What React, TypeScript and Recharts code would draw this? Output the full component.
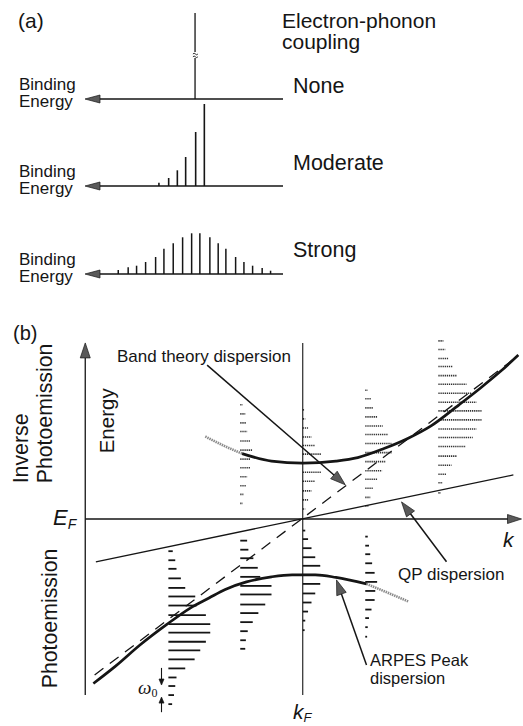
import React from 'react';
import { ComposedChart, Bar, Line, XAxis, YAxis, ReferenceLine, ReferenceDot } from 'recharts';

// (a) spectra: binding energy in units of w0 (zero at the bare line), intensity in a.u.
const noneEnergy = [0];
const noneIntensity = [86];
const moderateEnergy = [4.04, 2.95, 1.98, 1.05, -0.07, -1.04];
const moderateIntensity = [3.3, 8, 15.7, 29, 54, 82];
const strongEnergy = [8.62, 7.51, 6.57, 5.56, 4.44, 3.51, 2.47, 1.42, 0.41, -0.51, -1.63, -2.56, -3.42, -4.51, -5.44, -6.41, -7.48, -8.42];
const strongIntensity = [4, 6.7, 8.3, 12, 17, 25.3, 30.7, 36.7, 40.7, 40.7, 36.7, 30.7, 25.3, 17, 12, 8.3, 6, 3.3];

// (b) dispersions: k relative to kF, energy relative to EF (arbitrary units)
const qpK = [-3.31, 3.37];
const qpE = [-0.85, 0.875];
const bandK = [-3.33, 3.4];
const bandE = [-3.1, 3.2];
const peakUpperK = [-0.97, -0.5, 0, 0.53, 0.88, 1.3, 1.68, 2.04, 2.5, 2.84, 3.16, 3.45];
const peakUpperE = [1.3, 1.15, 1.11, 1.15, 1.22, 1.4, 1.6, 1.84, 2.27, 2.6, 2.93, 3.26];
const peakLowerK = [-3.35, -3.0, -2.6, -2.18, -1.8, -1.5, -1.24, -0.9, -0.5, -0.17, 0.2, 0.53, 1.02];
const peakLowerE = [-3.27, -2.93, -2.5, -2.1, -1.77, -1.57, -1.4, -1.25, -1.15, -1.11, -1.11, -1.16, -1.29];
const fadeUpperK = [-1.56, -1.25, -0.97];
const fadeUpperE = [1.64, 1.45, 1.3];
const fadeLowerK = [1.02, 1.35, 1.69];
const fadeLowerE = [-1.29, -1.46, -1.64];

// spectra drawn at five k points: photoemission (below EF) and inverse photoemission (above)
const specK = [-2.15, -1.0, 0, 1.0, 2.17];
const pesE = [
  [-0.64, -0.82, -0.99, -1.18, -1.37, -1.54, -1.72, -1.91, -2.09, -2.26, -2.44, -2.61, -2.79, -2.97, -3.15, -3.32, -3.5, -3.68],
  [-0.43, -0.61, -0.78, -0.97, -1.15, -1.33, -1.5, -1.7, -1.87, -2.05, -2.23, -2.41, -2.58],
  [-0.23, -0.4, -0.58, -0.76, -0.93, -1.11, -1.29, -1.48, -1.66, -1.84, -2.02, -2.21],
  [-0.35, -0.53, -0.7, -0.88, -1.07, -1.25, -1.43, -1.61, -1.8, -1.97, -2.15, -2.34],
  [],
];
const pesW = [
  [0.07, 0.11, 0.13, 0.2, 0.27, 0.43, 0.45, 0.6, 0.67, 0.67, 0.6, 0.51, 0.42, 0.27, 0.13, 0.11, 0.09, 0.06],
  [0.11, 0.13, 0.21, 0.28, 0.32, 0.5, 0.5, 0.4, 0.29, 0.2, 0.12, 0.09, 0.08],
  [0.04, 0.085, 0.14, 0.2, 0.28, 0.3, 0.28, 0.2, 0.14, 0.085, 0.04, 0.03],
  [0.04, 0.06, 0.08, 0.11, 0.15, 0.19, 0.16, 0.15, 0.1, 0.06, 0.04, 0.03],
  [],
];
const ipesE = [
  [],
  [2.27, 2.09, 1.91, 1.74, 1.55, 1.37, 1.19, 1.02, 0.84, 0.66, 0.49, 0.31],
  [2.17, 1.99, 1.81, 1.63, 1.46, 1.29, 1.11, 0.93, 0.75, 0.56, 0.38, 0.2],
  [2.56, 2.39, 2.21, 2.03, 1.85, 1.68, 1.5, 1.32, 1.14, 0.96, 0.79, 0.61, 0.43, 0.26],
  [3.54, 3.37, 3.19, 3.03, 2.85, 2.68, 2.5, 2.32, 2.15, 1.97, 1.79, 1.62, 1.44, 1.25, 1.07, 0.89, 0.72, 0.52],
];
const ipesW = [
  [],
  [0.04, 0.08, 0.09, 0.11, 0.16, 0.19, 0.16, 0.16, 0.11, 0.09, 0.05, 0.04],
  [0.03, 0.04, 0.085, 0.14, 0.2, 0.3, 0.31, 0.3, 0.2, 0.14, 0.085, 0.04],
  [0.04, 0.1, 0.12, 0.19, 0.28, 0.37, 0.42, 0.42, 0.32, 0.27, 0.19, 0.12, 0.08, 0.05],
  [0.08, 0.11, 0.16, 0.23, 0.29, 0.45, 0.53, 0.61, 0.69, 0.69, 0.61, 0.55, 0.44, 0.3, 0.21, 0.13, 0.07, 0.04],
];

// pointer arrows (band theory, QP, ARPES peak), in k/E units
const pointerFrom = [[-1.53, 3.06], [2.3, -0.85], [1.02, -2.9]];
const pointerTo = [[0.68, 0.68], [1.58, 0.34], [0.54, -1.21]];

const ink = '#151515';
const font = '"Liberation Sans", Arial, sans-serif';
const serif = '"Liberation Serif", serif';

const zip = (xs: number[], ys: number[]) => xs.map((k, i) => ({ k, E: ys[i] }));

// line with a filled triangular head at (x2, y2)
const arrowLine = (head: number, half: number, width: number, fill = '#5a5a5a') => (p: any) => {
  const { x1, y1, x2, y2 } = p;
  const dx = x2 - x1;
  const dy = y2 - y1;
  const len = Math.hypot(dx, dy) || 1;
  const ux = dx / len;
  const uy = dy / len;
  const bx = x2 - ux * head;
  const by = y2 - uy * head;
  const px = -uy * half;
  const py = ux * half;
  return (
    <g>
      <line x1={x1} y1={y1} x2={bx + ux * 2} y2={by + uy * 2} stroke={ink} strokeWidth={width} />
      <polygon
        points={`${x2},${y2} ${bx + px},${by + py} ${bx - px},${by - py}`}
        fill={fill}
        stroke={ink}
        strokeWidth={0.7}
      />
    </g>
  );
};

const breakMark = (p: any) => {
  const { cx, cy } = p;
  return (
    <g>
      <rect x={cx - 3} y={cy - 3} width={6} height={6} fill="#fff" />
      <path d={`M${cx - 2.5},${cy - 1} q1.2,-1.6 2.5,0 t2.5,0`} fill="none" stroke={ink} strokeWidth={0.9} />
      <path d={`M${cx - 2.5},${cy + 1.8} q1.2,-1.6 2.5,0 t2.5,0`} fill="none" stroke={ink} strokeWidth={0.9} />
    </g>
  );
};

function SpectrumRow({ energy, intensity, baseline, barWidth, withBreak }: any) {
  const table = energy.map((E: number, i: number) => ({ E, I: intensity[i] }));
  return (
    <div style={{ position: 'absolute', left: 0, top: baseline - 110 }}>
      <ComposedChart width={283} height={116} data={table} margin={{ top: 10, right: 0, bottom: 6, left: 85 }}>
        <XAxis dataKey="E" type="number" domain={[-9.8, 12.35]} reversed hide allowDataOverflow />
        <YAxis type="number" domain={[0, 100]} hide allowDataOverflow />
        <Bar dataKey="I" fill={ink} barSize={barWidth} isAnimationActive={false} />
        <ReferenceLine
          segment={[{ x: -9.8, y: 0 }, { x: 12.35, y: 0 }]}
          ifOverflow="visible"
          shape={arrowLine(15, 4, 1.5)}
        />
        {withBreak && <ReferenceDot x={0} y={44} r={3} ifOverflow="visible" shape={breakMark} />}
      </ComposedChart>
    </div>
  );
}

export default function App() {
  const specLines: any[] = [];
  specK.forEach((k0, c) => {
    pesE[c].forEach((E, i) =>
      specLines.push(
        <ReferenceLine
          key={`p${c}-${i}`}
          segment={[{ x: k0, y: E }, { x: k0 + pesW[c][i], y: E }]}
          ifOverflow="visible"
          stroke={ink}
          strokeWidth={1.8}
        />
      )
    );
    ipesE[c].forEach((E, i) =>
      specLines.push(
        <ReferenceLine
          key={`i${c}-${i}`}
          segment={[{ x: k0, y: E }, { x: k0 + ipesW[c][i], y: E }]}
          ifOverflow="visible"
          stroke="#333"
          strokeWidth={1.6}
          strokeDasharray="1.3 0.8"
        />
      )
    );
  });

  return (
    <div style={{ position: 'absolute', left: 0, top: 0, width: 523, height: 726, background: '#fff', overflow: 'hidden' }}>
      <SpectrumRow energy={noneEnergy} intensity={noneIntensity} baseline={99} barWidth={1.3} withBreak />
      <SpectrumRow energy={moderateEnergy} intensity={moderateIntensity} baseline={186} barWidth={1.6} />
      <SpectrumRow energy={strongEnergy} intensity={strongIntensity} baseline={274} barWidth={1.5} />

      <div style={{ position: 'absolute', left: 0, top: 300 }}>
        <ComposedChart width={523} height={426} margin={{ top: 37.9, right: 1.5, bottom: 10.8, left: 84 }}>
          <XAxis dataKey="k" type="number" domain={[-3.5, 3.5]} hide allowDataOverflow />
          <YAxis dataKey="E" type="number" domain={[-3.9, 3.6]} hide allowDataOverflow />
          {specLines}
          <ReferenceLine segment={[{ x: 0, y: -3.5 }, { x: 0, y: 3.5 }]} ifOverflow="visible" stroke={ink} strokeWidth={1.1} />
          <ReferenceLine
            segment={[{ x: -3.48, y: -3.5 }, { x: -3.48, y: 3.5 }]}
            ifOverflow="visible"
            shape={arrowLine(15, 5, 1.3)}
          />
          <ReferenceLine
            segment={[{ x: -3.48, y: 0 }, { x: 3.5, y: 0 }]}
            ifOverflow="visible"
            shape={arrowLine(14, 4.5, 1.3)}
          />
          <Line data={zip(qpK, qpE)} dataKey="E" type="linear" stroke={ink} strokeWidth={1.3} dot={false} isAnimationActive={false} />
          <Line data={zip(bandK, bandE)} dataKey="E" type="linear" stroke={ink} strokeWidth={1.3} strokeDasharray="11 8" dot={false} isAnimationActive={false} />
          <Line data={zip(fadeUpperK, fadeUpperE)} dataKey="E" type="monotone" stroke="#8c8c8c" strokeWidth={2.6} strokeDasharray="1.5 0.8" dot={false} isAnimationActive={false} />
          <Line data={zip(fadeLowerK, fadeLowerE)} dataKey="E" type="monotone" stroke="#8c8c8c" strokeWidth={2.6} strokeDasharray="1.5 0.8" dot={false} isAnimationActive={false} />
          <Line data={zip(peakUpperK, peakUpperE)} dataKey="E" type="monotone" stroke={ink} strokeWidth={2.7} dot={false} isAnimationActive={false} />
          <Line data={zip(peakLowerK, peakLowerE)} dataKey="E" type="monotone" stroke={ink} strokeWidth={2.7} dot={false} isAnimationActive={false} />
          {pointerFrom.map((f, i) => (
            <ReferenceLine
              key={`a${i}`}
              segment={[{ x: f[0], y: f[1] }, { x: pointerTo[i][0], y: pointerTo[i][1] }]}
              ifOverflow="visible"
              shape={arrowLine(15, 5, 1.5)}
            />
          ))}
          <ReferenceLine segment={[{ x: -2.26, y: -2.96 }, { x: -2.26, y: -3.3 }]} ifOverflow="visible" shape={arrowLine(6, 2.5, 1.1, ink)} />
          <ReferenceLine segment={[{ x: -2.26, y: -3.84 }, { x: -2.26, y: -3.54 }]} ifOverflow="visible" shape={arrowLine(6, 2.5, 1.1, ink)} />
        </ComposedChart>
      </div>

      <svg width={523} height={726} style={{ position: 'absolute', left: 0, top: 0, pointerEvents: 'none' }} fontFamily={font} fill={ink}>
        <text x={18} y={28} fontSize={21}>(a)</text>
        <text fontSize={21}>
          <tspan x={282} y={27.5}>Electron-phonon</tspan>
          <tspan x={282} y={48.5}>coupling</tspan>
        </text>
        <text x={293} y={93} fontSize={21.5}>None</text>
        <text x={293} y={170} fontSize={21.5}>Moderate</text>
        <text x={293} y={256.5} fontSize={21.5}>Strong</text>
        {[99, 186, 274].map((b) => (
          <text key={b} fontSize={17}>
            <tspan x={19} y={b - 9}>Binding</tspan>
            <tspan x={19} y={b + 8.3}>Energy</tspan>
          </text>
        ))}

        <text x={13} y={340} fontSize={20}>(b)</text>
        <text x={28.3} y={483.3} fontSize={21.3} transform="rotate(-90 28.3 483.3)">Inverse</text>
        <text x={52} y={483.3} fontSize={21.3} transform="rotate(-90 52 483.3)">Photoemission</text>
        <text x={56.7} y={688.3} fontSize={21.3} transform="rotate(-90 56.7 688.3)">Photoemission</text>
        <text x={114} y={453.3} fontSize={20.5} transform="rotate(-90 114 453.3)">Energy</text>
        <text x={117} y={361.5} fontSize={17}>Band theory dispersion</text>
        <text x={398} y={580} fontSize={17}>QP dispersion</text>
        <text fontSize={16.5}>
          <tspan x={370} y={666}>ARPES Peak</tspan>
          <tspan x={370} y={684}>dispersion</tspan>
        </text>
        <text x={53} y={525} fontSize={22} fontStyle="italic">
          E<tspan fontSize={14} dy={4}>F</tspan>
        </text>
        <text x={503} y={546.5} fontSize={21} fontStyle="italic">k</text>
        <text x={293} y={719} fontSize={21} fontStyle="italic">
          k<tspan fontSize={13} dy={3}>F</tspan>
        </text>
        <text x={138} y={694} fontSize={19} fontStyle="italic" fontFamily={serif}>
          ω<tspan fontSize={12} fontStyle="normal" dy={3}>0</tspan>
        </text>
      </svg>
    </div>
  );
}
